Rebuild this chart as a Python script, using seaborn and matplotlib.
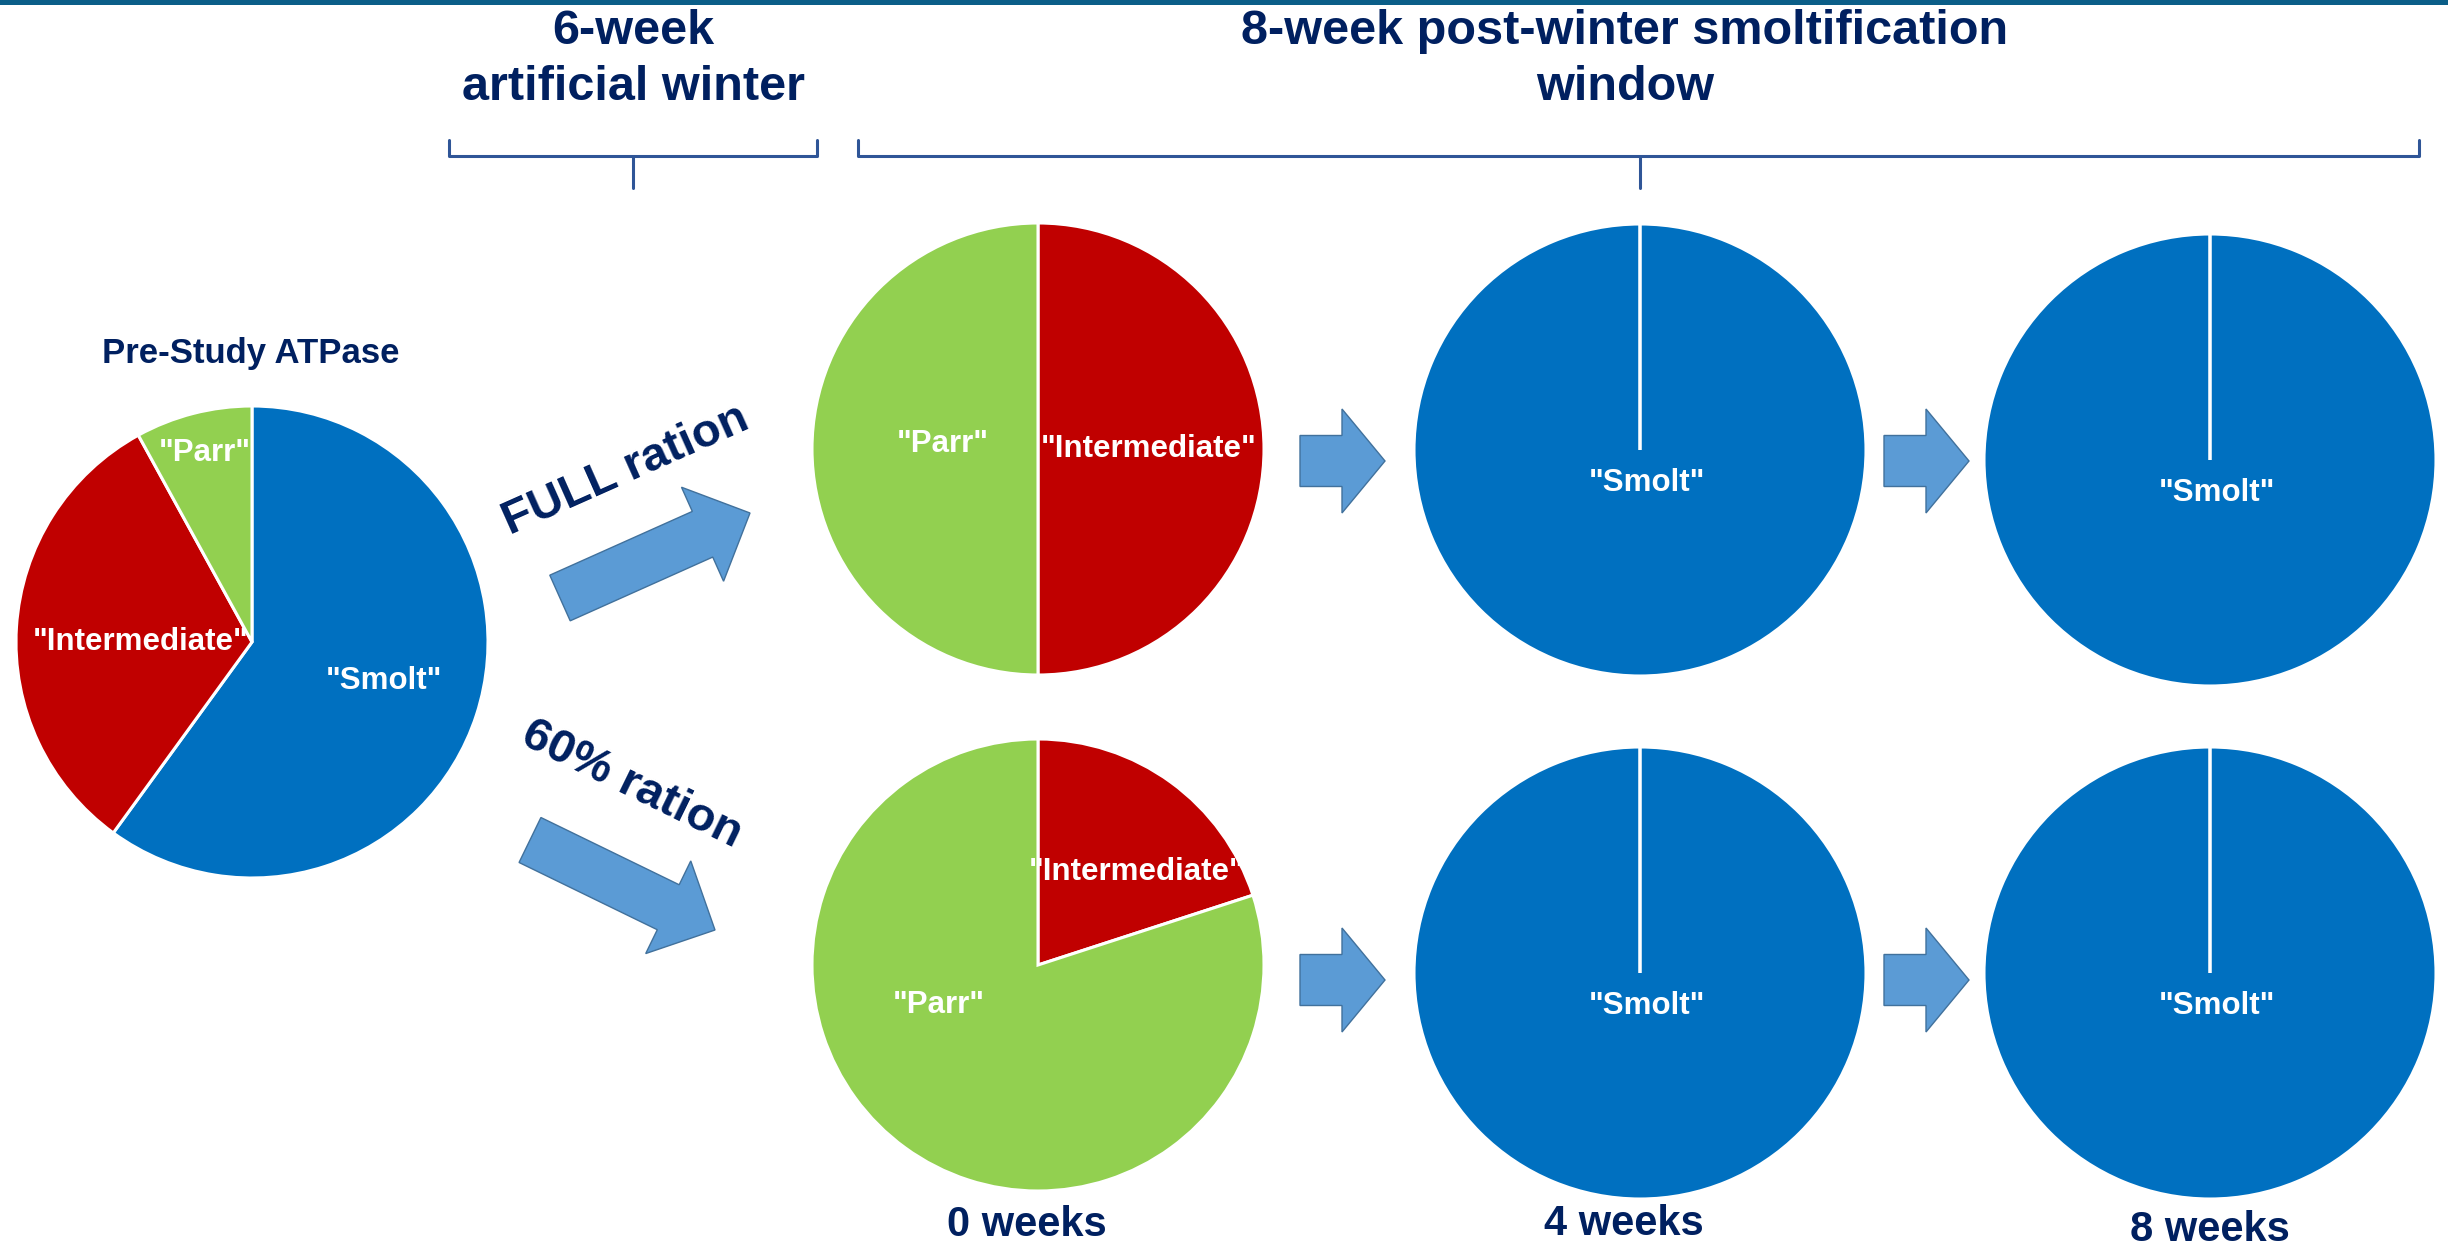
import matplotlib
matplotlib.use("Agg")
import matplotlib.pyplot as plt
import seaborn as sns
from matplotlib.patches import FancyArrow, Rectangle

# ------------------------------------------------------------------ #
# Data (percent of fish in each ATPase class)
categories = ["Smolt", "Intermediate", "Parr"]
pre_study = [60, 32, 8]
full_ration = [[0, 50, 50], [100, 0, 0], [100, 0, 0]]
reduced_ration = [[0, 20, 80], [100, 0, 0], [100, 0, 0]]
time_labels = ["0 weeks", "4 weeks", "8 weeks"]
treatments = ["FULL ration", "60% ration"]
header_winter = ["6-week", "artificial winter"]
header_window = ["8-week post-winter smoltification", "window"]
pre_title = "Pre-Study ATPase"

# ------------------------------------------------------------------ #
W, H = 2448, 1249
NAVY = "#002060"
BRACKET = "#2F5597"
ARROW_FC = "#5B9BD5"
ARROW_EC = "#41719C"
palette = dict(zip(categories, sns.color_palette(["#0070C0", "#C00000", "#92D050"])))

sns.set_theme(style="white")
plt.rcParams["font.family"] = ["Liberation Sans", "DejaVu Sans"]

fig = plt.figure(figsize=(W / 100, H / 100), dpi=100)
base = fig.add_axes([0, 0, 1, 1])
base.set_xlim(0, W)
base.set_ylim(H, 0)
base.axis("off")


def pie_axes(cx, cy, r):
    ax = fig.add_axes([(cx - r) / W, 1 - (cy + r) / H, 2 * r / W, 2 * r / H])
    return ax


def draw_pie(cx, cy, r, values, label_pos):
    ax = pie_axes(cx, cy, r)
    ax.pie(values, colors=[palette[c] for c in categories], startangle=90,
           counterclock=False, radius=1,
           wedgeprops=dict(edgecolor="white", linewidth=2.2))
    ax.set_xlim(-1, 1)
    ax.set_ylim(-1, 1)
    ax.set_aspect("equal")
    for cat, v in zip(categories, values):
        if v > 0:
            dx, dy = label_pos[cat]
            ax.text(dx, dy, f'"{cat}"', color="white", fontsize=22.5,
                    fontweight="bold", ha="center", va="center")
    return ax


# top band
base.add_patch(Rectangle((0, 0), W, 5, color="#0B5E88", lw=0))

# headers
for txt, y in zip(header_winter, [44, 100]):
    base.text(633, y, txt, fontsize=35, fontweight="bold", color=NAVY,
              ha="center", va="baseline")
for txt, y in zip(header_window, [44, 100]):
    base.text(1625, y, txt, fontsize=35, fontweight="bold", color=NAVY,
              ha="center", va="baseline")

# brackets
for x0, x1, xm in [(449, 817, 633), (858, 2419, 1640)]:
    base.plot([x0, x0, x1, x1], [140, 156, 156, 140], color=BRACKET, lw=2.2,
              solid_joinstyle="round")
    base.plot([xm, xm], [156, 188], color=BRACKET, lw=2.2)

# pre-study pie
base.text(251, 363, pre_title, fontsize=25, fontweight="bold", color=NAVY,
          ha="center", va="baseline")
draw_pie(252, 642, 236, pre_study,
         {"Smolt": (0.56, -0.165), "Intermediate": (-0.47, 0.0), "Parr": (-0.2, 0.80)})

# treatment arrows and labels
arrow_kw = dict(length_includes_head=True, fc=ARROW_FC, ec=ARROW_EC, lw=1.0)
base.add_patch(FancyArrow(560, 598, 190, -85, width=50, head_width=103,
                          head_length=52, **arrow_kw))
base.add_patch(FancyArrow(530, 840, 185, 90, width=50, head_width=103,
                          head_length=52, **arrow_kw))
base.text(626, 470, treatments[0], fontsize=34, fontweight="bold", color=NAVY,
          rotation=24, rotation_mode="anchor", ha="center", va="center")
base.text(632, 785, treatments[1], fontsize=34, fontweight="bold", color=NAVY,
          rotation=-26, rotation_mode="anchor", ha="center", va="center")

# time-course pies
col_x = [1038, 1640, 2210]
row_y_top = [449, 450, 460]
row_y_bot = [965, 973, 973]
pos_first_top = {"Intermediate": (0.49, 0.0), "Parr": (-0.42, 0.02), "Smolt": (0.03, -0.145)}
pos_first_bot = {"Intermediate": (0.436, 0.41), "Parr": (-0.44, -0.175), "Smolt": (0.03, -0.145)}
pos_smolt = {"Smolt": (0.03, -0.145), "Intermediate": (0, 0), "Parr": (0, 0)}

for i, (vals_t, vals_b) in enumerate(zip(full_ration, reduced_ration)):
    draw_pie(col_x[i], row_y_top[i], 226, vals_t, pos_first_top if i == 0 else pos_smolt)
    draw_pie(col_x[i], row_y_bot[i], 226, vals_b, pos_first_bot if i == 0 else pos_smolt)

# small step arrows
for x0 in [1300, 1884]:
    for y0 in [461, 980]:
        base.add_patch(FancyArrow(x0, y0, 85, 0, width=51, head_width=104,
                                  head_length=43, **arrow_kw))

# time labels
for lab, x, y in zip(time_labels, [1027, 1624, 2210], [1236, 1235, 1241]):
    base.text(x, y, lab, fontsize=30, fontweight="bold", color=NAVY,
              ha="center", va="baseline")

fig.savefig("out.png", dpi=100)
